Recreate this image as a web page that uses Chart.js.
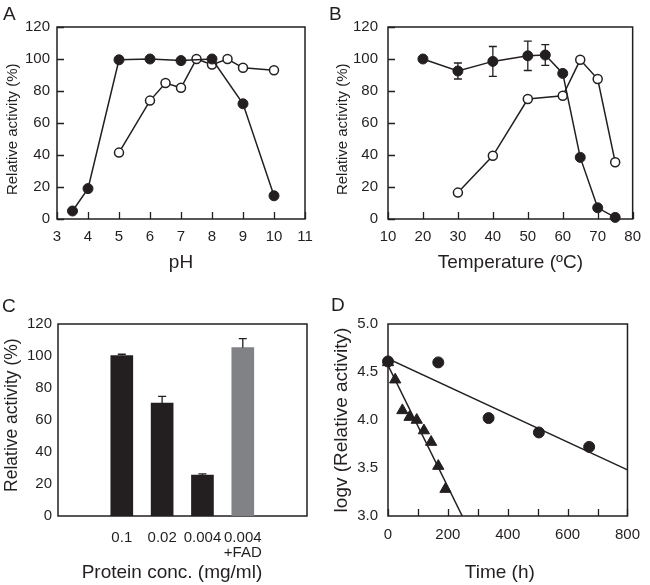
<!DOCTYPE html>
<html>
<head>
<meta charset="utf-8">
<script src="https://cdn.jsdelivr.net/npm/chart.js@4.4.0/dist/chart.umd.min.js"></script>
<style>
  html, body { margin: 0; padding: 0; background: #fff; }
  #wrap { position: relative; width: 650px; height: 585px; font-family: "Liberation Sans", Arial, sans-serif; color: #231f20; }
  canvas { position: absolute; }
  .letter { position: absolute; font-size: 19px; line-height: 1; }
</style>
</head>
<body>
<div id="wrap">
  <canvas id="chartA" width="325" height="292" style="left:0;top:0"></canvas>
  <canvas id="chartB" width="325" height="292" style="left:325px;top:0"></canvas>
  <canvas id="chartC" width="325" height="293" style="left:0;top:292px"></canvas>
  <canvas id="chartD" width="325" height="293" style="left:325px;top:292px"></canvas>
  <div class="letter" style="left:3px;top:4px">A</div>
  <div class="letter" style="left:329px;top:4px">B</div>
  <div class="letter" style="left:2px;top:296px">C</div>
  <div class="letter" style="left:331px;top:295px">D</div>
</div>
<script>
const INK = "#231f20";
const GREY = "#808285";
const FONT = "'Liberation Sans', Arial, sans-serif";
const TICK = 7;

// A: pH profile
const phFilledX = [3.5, 4, 5, 6, 7, 8, 9, 10];
const phFilledY = [5, 19, 99.5, 100, 99, 100, 72, 14.5];
const phOpenX = [5, 6, 6.5, 7, 7.5, 8, 8.5, 9, 10];
const phOpenY = [41.5, 74, 85, 82, 100, 96.5, 100, 94.5, 93];

// B: temperature profile
const tempFilledX = [20, 30, 40, 50, 55, 60, 65, 70, 75];
const tempFilledY = [100, 92.5, 98.5, 102, 102.5, 91, 38.5, 7, 1];
const tempFilledErr = [0, 5, 9.3, 9.2, 6.5, 0, 0, 0, 0];
const tempOpenX = [30, 40, 50, 60, 65, 70, 75];
const tempOpenY = [16.5, 39.5, 75, 77, 99.5, 87.5, 35.5];

// C: protein concentration
const concLabels = ["0.1", "0.02", "0.004", "0.004\n+FAD"];
const concValues = [100.3, 70.5, 25.5, 105.2];
const concErr = [0.8, 4.3, 0.8, 5.7];
const concColors = [INK, INK, INK, GREY];

// D: stability over time
const timeCircleX = [0, 168, 336, 504, 672];
const timeCircleY = [4.61, 4.6, 4.02, 3.87, 3.72];
const timeTriX = [0, 24, 48, 72, 96, 120, 144, 168, 192];
const timeTriY = [4.6, 4.42, 4.1, 4.03, 4.0, 3.89, 3.77, 3.52, 3.28];
const fitCircleX = [0, 800];
const fitCircleY = [4.64, 3.48];
const fitTriX = [0, 248];
const fitTriY = [4.57, 3.0];

const pts = (xs, ys) => xs.map((x, i) => ({ x, y: ys[i] }));

// box around plot area + inward tick marks
const frame = {
  id: "frame",
  beforeDatasetsDraw(chart, args, opts) {
    const { ctx, chartArea: a, scales } = chart;
    ctx.save();
    ctx.strokeStyle = INK;
    ctx.lineWidth = 1.5;
    ctx.strokeRect(a.left, a.top, a.right - a.left, a.bottom - a.top);
    ctx.lineWidth = 1.3;
    ctx.beginPath();
    if (opts.xTicks) {
      scales.x.ticks.forEach((t) => {
        const p = Math.round(scales.x.getPixelForValue(t.value)) + 0.5;
        ctx.moveTo(p, a.bottom);
        ctx.lineTo(p, a.bottom - TICK);
      });
    }
    if (opts.yTicks) {
      scales.y.ticks.forEach((t) => {
        const p = Math.round(scales.y.getPixelForValue(t.value)) + 0.5;
        ctx.moveTo(a.left, p);
        ctx.lineTo(a.left + TICK, p);
      });
    }
    ctx.stroke();
    ctx.restore();
  },
};

const errorBars = {
  id: "errorBars",
  afterDatasetsDraw(chart, args, opts) {
    if (!opts.errors) return;
    const { ctx, scales } = chart;
    const meta = chart.getDatasetMeta(opts.dataset || 0);
    const vals = chart.data.datasets[opts.dataset || 0].data;
    ctx.save();
    ctx.strokeStyle = INK;
    ctx.lineWidth = 1.3;
    ctx.beginPath();
    meta.data.forEach((el, i) => {
      const e = opts.errors[i];
      if (!e) return;
      const v = vals[i].y;
      const top = scales.y.getPixelForValue(v + e);
      const bot = opts.upperOnly ? el.y : scales.y.getPixelForValue(v - e);
      ctx.moveTo(el.x, top);
      ctx.lineTo(el.x, bot);
      ctx.moveTo(el.x - 4, top);
      ctx.lineTo(el.x + 4, top);
      if (!opts.upperOnly) {
        ctx.moveTo(el.x - 4, bot);
        ctx.lineTo(el.x + 4, bot);
      }
    });
    ctx.stroke();
    ctx.restore();
  },
};

function xAxis(min, max, step, title, height, tickPad, titlePad, extra) {
  return Object.assign({
    type: "linear", min, max,
    ticks: { stepSize: step, color: INK, font: { family: FONT, size: 15 }, padding: tickPad, maxRotation: 0 },
    grid: { display: false, drawTicks: false },
    border: { display: false },
    title: { display: true, text: title, color: INK, font: { family: FONT, size: 19 }, padding: { top: 0, bottom: titlePad } },
    afterFit: (s) => { s.height = height; },
  }, extra || {});
}

function yAxis(min, max, step, title, width, tickPad, titleSize, titlePad, fmt) {
  return {
    type: "linear", min, max,
    ticks: { stepSize: step, color: INK, font: { family: FONT, size: 15 }, padding: tickPad, callback: fmt || ((v) => v) },
    grid: { display: false, drawTicks: false },
    border: { display: false },
    title: { display: true, text: title, color: INK, font: { family: FONT, size: titleSize }, padding: { top: titlePad, bottom: 0 } },
    afterFit: (s) => { s.width = width; },
  };
}

const filledStyle = { borderColor: INK, backgroundColor: INK, pointBackgroundColor: INK, pointBorderColor: INK, pointRadius: 5, pointBorderWidth: 1, borderWidth: 1.5, showLine: true, clip: false };
const openStyle = { borderColor: INK, backgroundColor: "#fff", pointBackgroundColor: "#fff", pointBorderColor: INK, pointRadius: 4.5, pointBorderWidth: 1.5, borderWidth: 1.5, showLine: true, clip: false };

const common = {
  responsive: false,
  animation: false,
  events: [],
  plugins: { legend: { display: false }, tooltip: { enabled: false } },
};

new Chart(document.getElementById("chartA"), {
  type: "scatter",
  data: {
    datasets: [
      Object.assign({ data: pts(phFilledX, phFilledY) }, filledStyle),
      Object.assign({ data: pts(phOpenX, phOpenY) }, openStyle),
    ],
  },
  options: Object.assign({}, common, {
    layout: { padding: { top: 27, right: 20, left: 0, bottom: 0 } },
    plugins: Object.assign({}, common.plugins, { frame: { xTicks: true, yTicks: true } }),
    scales: {
      x: xAxis(3, 11, 1, "pH", 73, 9, 18),
      y: yAxis(0, 120, 20, "Relative activity (%)   ", 57, 7, 15, 4),
    },
  }),
  plugins: [frame],
});

new Chart(document.getElementById("chartB"), {
  type: "scatter",
  data: {
    datasets: [
      Object.assign({ data: pts(tempFilledX, tempFilledY) }, filledStyle),
      Object.assign({ data: pts(tempOpenX, tempOpenY) }, openStyle),
    ],
  },
  options: Object.assign({}, common, {
    layout: { padding: { top: 27, right: 14, left: 0, bottom: 0 } },
    plugins: Object.assign({}, common.plugins, { frame: { xTicks: true, yTicks: true }, errorBars: { errors: tempFilledErr } }),
    scales: {
      x: xAxis(10, 80, 10, "Temperature (ºC)", 73, 9, 18),
      y: yAxis(0, 120, 20, "Relative activity (%)   ", 63, 10, 15, 9),
    },
  }),
  plugins: [frame, errorBars],
});

new Chart(document.getElementById("chartC"), {
  type: "bar",
  data: {
    datasets: [{
      data: pts([1, 2, 3, 4], concValues),
      backgroundColor: concColors,
      borderWidth: 0,
      barThickness: 22,
    }],
  },
  options: Object.assign({}, common, {
    layout: { padding: { top: 32, right: 18, left: 0, bottom: 0 } },
    plugins: Object.assign({}, common.plugins, { frame: { xTicks: false, yTicks: false }, errorBars: { errors: concErr, upperOnly: true } }),
    scales: {
      x: xAxis(0.19, 4.82, 1, "Protein conc. (mg/ml)    ", 69, 14.5, 1, {
        afterBuildTicks: (s) => { s.ticks = [1, 2, 3, 4].map((v) => ({ value: v })); },
      }),
      y: yAxis(0, 120, 20, "  Relative activity (%)", 58, 6, 17.5, 1.5),
    },
  }),
  plugins: [frame, errorBars],
});
// multi-line category labels for C
(function () {
  const c = Chart.getChart("chartC");
  c.options.scales.x.ticks.callback = (v) => concLabels[v - 1].split("\n");
  c.options.scales.x.ticks.font.lineHeight = 1;
  c.update();
})();

new Chart(document.getElementById("chartD"), {
  type: "scatter",
  data: {
    datasets: [
      { data: pts(timeCircleX, timeCircleY), pointStyle: "circle", pointRadius: 5.5, pointBackgroundColor: INK, pointBorderColor: INK, showLine: false, clip: false },
      { data: pts(timeTriX, timeTriY), pointStyle: "triangle", pointRadius: 6.5, pointBackgroundColor: INK, pointBorderColor: INK, showLine: false, clip: false },
      { data: pts(fitCircleX, fitCircleY), borderColor: INK, borderWidth: 1.5, pointRadius: 0, showLine: true },
      { data: pts(fitTriX, fitTriY), borderColor: INK, borderWidth: 1.5, pointRadius: 0, showLine: true },
    ],
  },
  options: Object.assign({}, common, {
    layout: { padding: { top: 32, right: 14, left: 0, bottom: 0 } },
    plugins: Object.assign({}, common.plugins, { frame: { xTicks: true, yTicks: false } }),
    scales: {
      x: xAxis(0, 800, 100, "Time (h)   ", 69, 10, 1),
      y: yAxis(3, 5, 0.5, "logv (Relative activity)", 63, 10, 19, 5.6, (v) => v.toFixed(1)),
    },
  }),
  plugins: [frame],
});
(function () {
  const c = Chart.getChart("chartD");
  c.options.scales.x.ticks.callback = (v) => (v % 200 === 0 ? String(v) : "");
  c.update();
})();
</script>
</body>
</html>
